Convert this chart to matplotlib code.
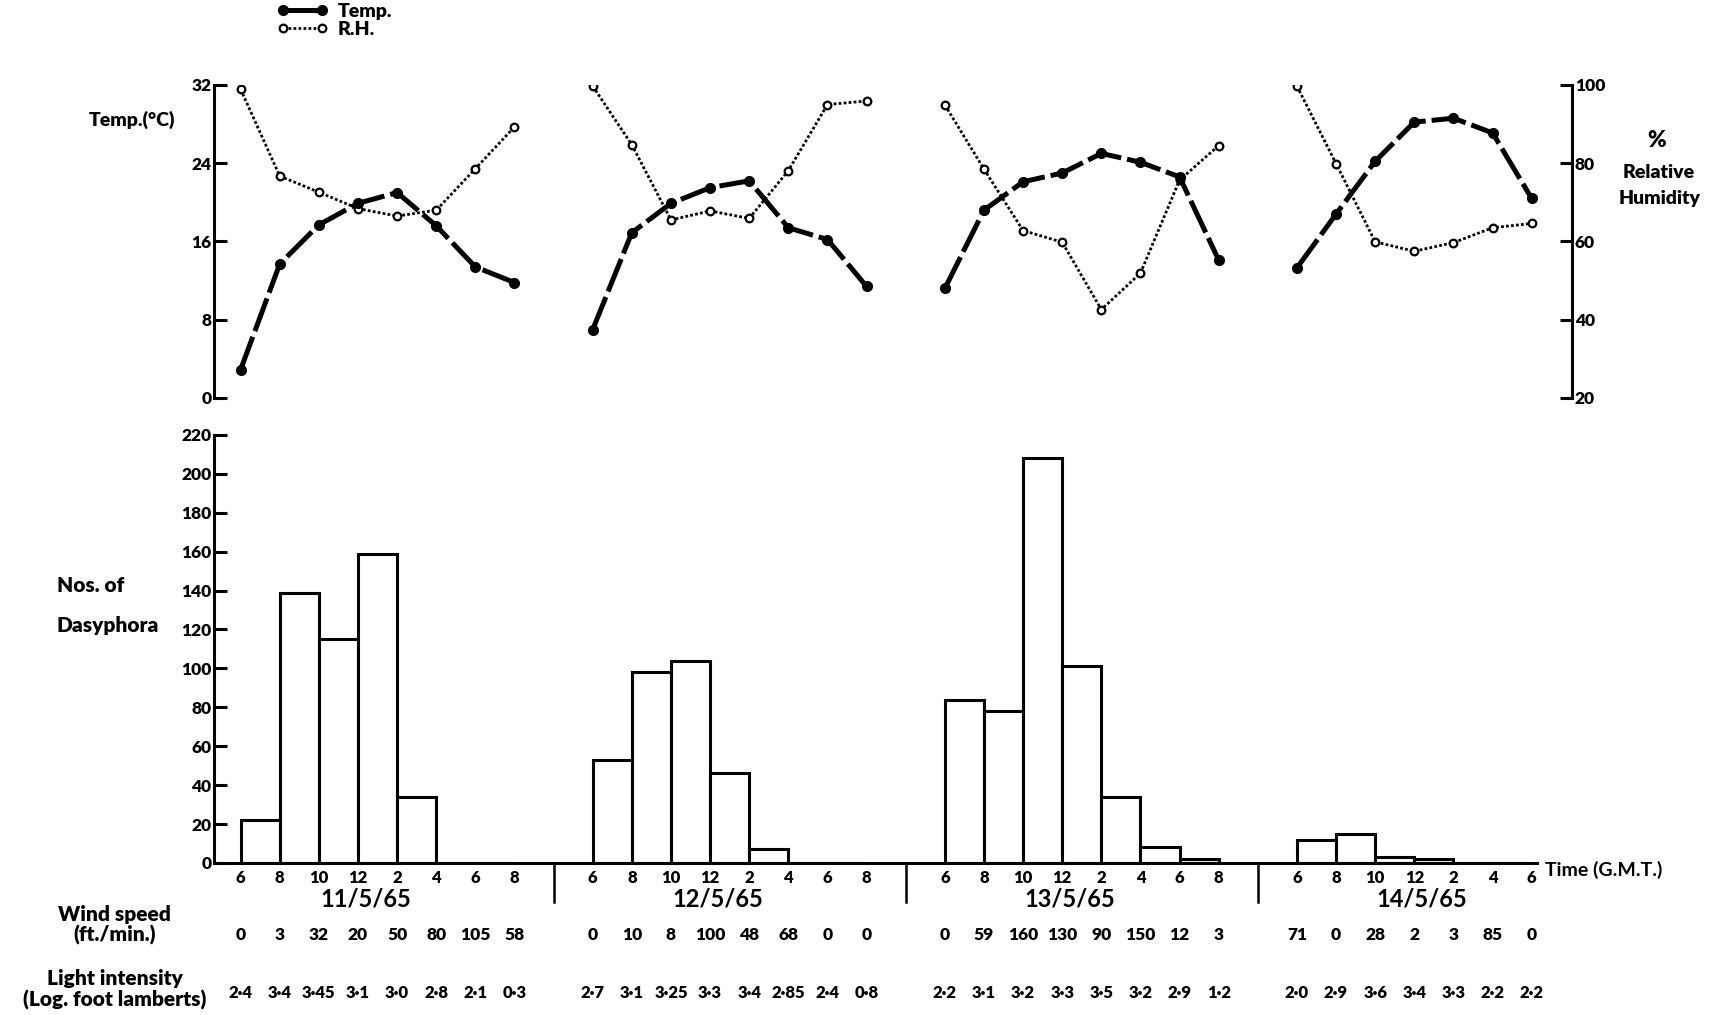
import numpy as np
import matplotlib.pyplot as plt
from matplotlib.transforms import blended_transform_factory

plt.rcParams['font.family'] = ['Lato', 'DejaVu Sans']
plt.rcParams['font.weight'] = 'heavy'

# Four sampling days, readings every 2 h (G.M.T.)
days = ["11/5/65", "12/5/65", "13/5/65", "14/5/65"]
hours = [
    [6, 8, 10, 12, 2, 4, 6, 8],
    [6, 8, 10, 12, 2, 4, 6, 8],
    [6, 8, 10, 12, 2, 4, 6, 8],
    [6, 8, 10, 12, 2, 4, 6],
]

# Temperature (deg C) at each reading
temp = [
    [2.9, 13.7, 17.7, 19.9, 21.0, 17.6, 13.4, 11.8],
    [7.0, 16.9, 19.9, 21.5, 22.2, 17.4, 16.2, 11.4],
    [11.2, 19.2, 22.1, 23.0, 25.0, 24.1, 22.6, 14.1],
    [13.3, 18.8, 24.2, 28.2, 28.6, 27.1, 20.4],
]

# Relative humidity (%) at each reading
rh = [
    [98.9, 76.7, 72.6, 68.4, 66.5, 68.0, 78.6, 89.3],
    [99.7, 84.7, 65.5, 67.8, 65.9, 78.1, 95.0, 95.9],
    [94.9, 78.5, 62.8, 59.8, 42.6, 51.9, 75.7, 84.5],
    [99.7, 79.9, 59.9, 57.5, 59.7, 63.5, 64.6],
]

# Nos. of Dasyphora caught in each 2 h interval
counts = [
    [22, 139, 115, 159, 34, 0, 0],
    [53, 98, 104, 46, 7, 0, 0],
    [84, 78, 208, 101, 34, 8, 2],
    [12, 15, 3, 2, 0, 0],
]

wind = [
    ["0", "3", "32", "20", "50", "80", "105", "58"],
    ["0", "10", "8", "100", "48", "68", "0", "0"],
    ["0", "59", "160", "130", "90", "150", "12", "3"],
    ["71", "0", "28", "2", "3", "85", "0"],
]

light = [
    ["2·4", "3·4", "3·45", "3·1", "3·0", "2·8", "2·1", "0·3"],
    ["2·7", "3·1", "3·25", "3·3", "3·4", "2·85", "2·4", "0·8"],
    ["2·2", "3·1", "3·2", "3·3", "3·5", "3·2", "2·9", "1·2"],
    ["2·0", "2·9", "3·6", "3·4", "3·3", "2·2", "2·2"],
]

DAY_STEP = 9          # slots per day incl. the night gap
x_lo, x_hi = -0.68, 34.03

fig = plt.figure(figsize=(17.15, 10.15), dpi=100)
ax_t = fig.add_axes([0.1248, 0.6079, 0.7918, 0.3084])
ax_rh = ax_t.twinx()
ax_b = fig.add_axes([0.1248, 0.1498, 0.7918, 0.4217])

# ---- top panel: temperature and humidity
for d in range(len(days)):
    x = DAY_STEP * d + np.arange(len(hours[d]))
    ax_t.plot(x, temp[d], color='black', lw=3.6, ls=(0, (7, 1.2)),
              marker='o', ms=7, mfc='black', mec='black',
              label='Temp.' if d == 0 else None)
    ax_rh.plot(x, rh[d], color='black', lw=2, ls=(0, (1, 0.8)),
               marker='o', ms=5.5, mfc='white', mec='black', mew=1.6,
               label='R.H.' if d == 0 else None)

ax_t.set_zorder(ax_rh.get_zorder() + 1)
ax_t.patch.set_visible(False)

ax_t.set_xlim(x_lo, x_hi)
ax_t.set_ylim(0, 32)
ax_t.set_yticks([0, 8, 16, 24, 32])
ax_rh.set_ylim(20, 100)
ax_rh.set_yticks([20, 40, 60, 80, 100])

for a in (ax_t, ax_rh):
    for s in ('top', 'bottom'):
        a.spines[s].set_visible(False)
    a.set_xticks([])
ax_t.spines['right'].set_visible(False)
ax_rh.spines['left'].set_visible(False)
ax_t.spines['left'].set_linewidth(2.2)
ax_t.spines['left'].set_bounds(0, 32)
ax_rh.spines['right'].set_linewidth(2.2)
ax_rh.spines['right'].set_bounds(20, 100)
ax_t.tick_params(axis='y', direction='in', length=9, width=2.2, pad=2, labelsize=12.5)
ax_rh.tick_params(axis='y', direction='in', length=9, width=2.2, pad=2, labelsize=12.5)

fig.text(0.077, 0.882, "Temp.(°C)", ha='center', va='center', fontsize=14)
fig.text(0.966, 0.862, "%", ha='center', va='center', fontsize=16)
fig.text(0.967, 0.830, "Relative", ha='center', va='center', fontsize=14)
fig.text(0.968, 0.804, "Humidity", ha='center', va='center', fontsize=14)

h1, l1 = ax_t.get_legend_handles_labels()
h2, l2 = ax_rh.get_legend_handles_labels()
fig.legend(h1 + h2, l1 + l2, loc='upper left', bbox_to_anchor=(0.157, 1.005),
           frameon=False, handlelength=2.6, fontsize=14, labelspacing=0.05,
           handletextpad=0.5, borderaxespad=0, numpoints=2)

# ---- bottom panel: catches as a step histogram
for d in range(len(days)):
    x = DAY_STEP * d + np.arange(len(counts[d]))
    ax_b.bar(x, counts[d], width=1, align='edge', color='white',
             edgecolor='black', lw=2.2)

ax_b.set_xlim(x_lo, x_hi)
ax_b.set_ylim(0, 220)
ax_b.set_yticks(np.arange(0, 221, 20))
ax_b.spines['top'].set_visible(False)
ax_b.spines['right'].set_visible(False)
ax_b.spines['left'].set_linewidth(2.2)
ax_b.spines['bottom'].set_linewidth(2.2)
ax_b.spines['bottom'].set_bounds(x_lo, 33.14)
ax_b.tick_params(axis='y', direction='in', length=9, width=2.2, pad=2, labelsize=12.5)

ticks = []
tick_labels = []
for d in range(len(days)):
    for i, h in enumerate(hours[d]):
        ticks.append(DAY_STEP * d + i)
        tick_labels.append(str(h))
ax_b.set_xticks(ticks)
ax_b.set_xticklabels(tick_labels)
ax_b.tick_params(axis='x', length=0, pad=5, labelsize=12)

# day separators below the baseline
for d in range(1, len(days)):
    ax_b.plot([DAY_STEP * d - 1, DAY_STEP * d - 1], [0, -20], color='black',
              lw=1.8, clip_on=False)

trans = blended_transform_factory(ax_b.transData, fig.transFigure)
for d in range(len(days)):
    x0 = DAY_STEP * d
    ax_b.text(x0 + 3.2, 0.1145, days[d], transform=trans, ha='center',
              va='center', fontsize=17, fontweight='bold')
    for i in range(len(hours[d])):
        ax_b.text(x0 + i, 0.0788, wind[d][i], transform=trans, ha='center',
                  va='center', fontsize=12.5)
        ax_b.text(x0 + i, 0.0217, light[d][i], transform=trans, ha='center',
                  va='center', fontsize=12)

ax_b.text(33.35, 0.1425, "Time (G.M.T.)", transform=trans, ha='left',
          va='center', fontsize=14, fontweight='bold')

fig.text(0.033, 0.4236, "Nos. of", ha='left', va='center', fontsize=15)
fig.text(0.033, 0.3833, "Dasyphora", ha='left', va='center', fontsize=15)
fig.text(0.067, 0.0995, "Wind speed", ha='center', va='center', fontsize=15)
fig.text(0.067, 0.0788, "(ft./min.)", ha='center', va='center', fontsize=15)
fig.text(0.067, 0.0355, "Light intensity", ha='center', va='center', fontsize=15)
fig.text(0.067, 0.0148, "(Log. foot lamberts)", ha='center', va='center', fontsize=15)

fig.savefig('out.png', dpi=100)
